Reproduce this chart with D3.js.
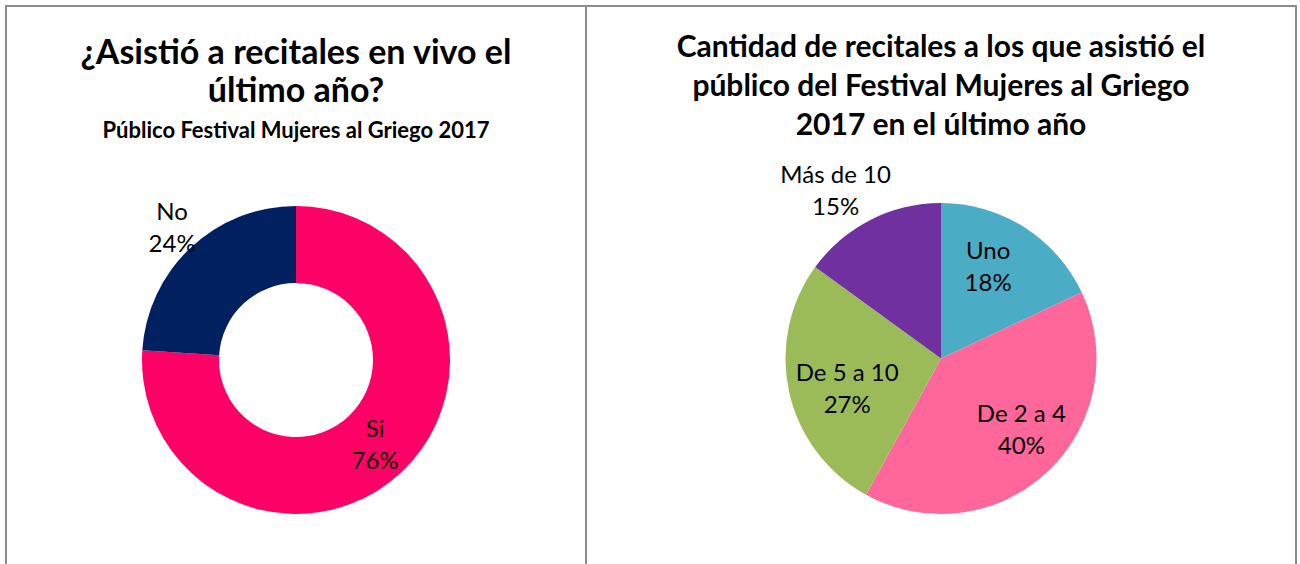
<!DOCTYPE html>
<html>
<head>
<meta charset="utf-8">
<script src="https://cdn.jsdelivr.net/npm/d3@7"></script>
<style>
  body { margin: 0; background: #fff; }
  svg { display: block; font-family: Lato, "Open Sans", sans-serif; }
</style>
</head>
<body>
<div id="chart"></div>
<script>
// --- data ---
const donutLabels = ["Si", "No"];
const donutValues = [76, 24];
const pieLabels = ["Uno", "De 2 a 4", "De 5 a 10", "Más de 10"];
const pieValues = [18, 40, 27, 15];

const donutColors = ["#FF0066", "#002060"];
const pieColors = ["#4BACC6", "#FF6699", "#9BBB59", "#7030A0"];

const width = 1300, height = 564;

const svg = d3.select("#chart")
  .append("svg")
  .attr("width", width)
  .attr("height", height);

svg.append("rect").attr("width", width).attr("height", height).attr("fill", "#fff");

// panel borders (two chart frames side by side)
const frame = svg.append("g").attr("stroke", "#8c8c8c").attr("stroke-width", 2).attr("fill", "none");
frame.append("path").attr("d", "M6,570 V6 H1296 V570");
frame.append("line").attr("x1", 586).attr("x2", 586).attr("y1", 6).attr("y2", 570);

// ---------- left: donut ----------
const left = svg.append("g");

left.selectAll("text.title")
  .data(["¿Asistió a recitales en vivo el", "último año?"])
  .join("text")
  .attr("class", "title")
  .attr("x", 296)
  .attr("y", (d, i) => 64 + i * 38)
  .attr("text-anchor", "middle")
  .attr("font-weight", "bold")
  .attr("font-size", 34)
  .text(d => d);

left.append("text")
  .attr("x", 296)
  .attr("y", 138)
  .attr("text-anchor", "middle")
  .attr("font-weight", "bold")
  .attr("font-size", 22)
  .text("Público Festival Mujeres al Griego 2017");

const donutR = 154;
const donutG = left.append("g").attr("transform", "translate(296,360)");

const donutPie = d3.pie().sort(null).value(d => d.value);
const donutArcs = donutPie(donutLabels.map((l, i) => ({ label: l, value: donutValues[i] })));

const donutArc = d3.arc().innerRadius(donutR * 0.5).outerRadius(donutR);

donutG.selectAll("path")
  .data(donutArcs)
  .join("path")
  .attr("d", donutArc)
  .attr("fill", (d, i) => donutColors[i]);

// label radius: inside the ring for the big slice, outside for the small one
const donutLabelR = [115.5, 181];
const donutLabels2 = donutG.selectAll("g.lbl")
  .data(donutArcs)
  .join("g")
  .attr("class", "lbl")
  .attr("transform", (d, i) => {
    const c = d3.arc().innerRadius(donutLabelR[i]).outerRadius(donutLabelR[i]).centroid(d);
    return `translate(${c[0]},${c[1]})`;
  });

addLabel(donutLabels2, 24);

// ---------- right: pie ----------
const right = svg.append("g");

right.selectAll("text.title")
  .data(["Cantidad de recitales a los que asistió el", "público del Festival Mujeres al Griego", "2017 en el último año"])
  .join("text")
  .attr("class", "title")
  .attr("x", 941)
  .attr("y", (d, i) => 57 + i * 39)
  .attr("text-anchor", "middle")
  .attr("font-weight", "bold")
  .attr("font-size", 30)
  .text(d => d);

const pieR = 155.5;
const pieG = right.append("g").attr("transform", "translate(941,358.5)");

const pie = d3.pie().sort(null).value(d => d.value);
const pieArcs = pie(pieLabels.map((l, i) => ({ label: l, value: pieValues[i] })));

const arcGen = d3.arc().innerRadius(0).outerRadius(pieR);

pieG.selectAll("path")
  .data(pieArcs)
  .join("path")
  .attr("d", arcGen)
  .attr("fill", (d, i) => pieColors[i]);

const pieLabelR = [103, 107.5, 98.5, 198];
const angleShift = -0.09;
const pieLbl = pieG.selectAll("g.lbl")
  .data(pieArcs)
  .join("g")
  .attr("class", "lbl")
  .attr("transform", (d, i) => {
    const c = d3.arc().innerRadius(pieLabelR[i]).outerRadius(pieLabelR[i])
      .centroid({ startAngle: d.startAngle + angleShift, endAngle: d.endAngle + angleShift });
    return `translate(${c[0]},${c[1]})`;
  });

addLabel(pieLbl, 24);

function addLabel(sel, size) {
  sel.append("text")
    .attr("text-anchor", "middle")
    .attr("font-size", size)
    .attr("y", -16 + size * 0.35)
    .attr("fill", "#000")
    .text(d => d.data.label);
  sel.append("text")
    .attr("text-anchor", "middle")
    .attr("font-size", size)
    .attr("y", 16 + size * 0.35)
    .attr("fill", "#000")
    .text(d => d.data.value + "%");
}
</script>
</body>
</html>
